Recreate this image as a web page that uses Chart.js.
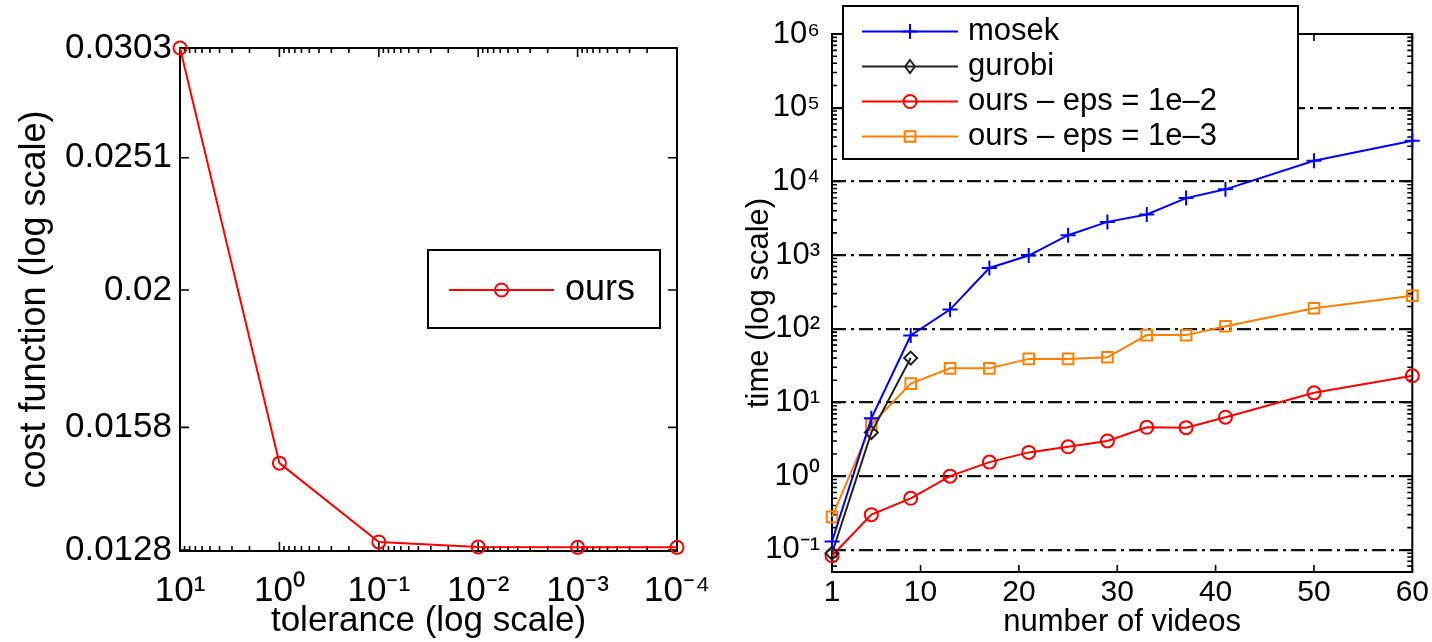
<!DOCTYPE html>
<html>
<head>
<meta charset="utf-8">
<script src="https://cdn.jsdelivr.net/npm/chart.js@4/dist/chart.umd.min.js"></script>
<style>
  html, body { margin: 0; padding: 0; background: #fff; width: 1432px; height: 642px; overflow: hidden; }
  canvas { position: absolute; top: 0; }
  #leftChart { left: 0; }
  #rightChart { left: 740px; }
</style>
</head>
<body>
<canvas id="leftChart" width="740" height="642"></canvas>
<canvas id="rightChart" width="692" height="642"></canvas>
<script>
// ---------------- data: left panel ----------------
const tolerance = [10, 1, 0.1, 0.01, 0.001, 0.0001];
const costOurs = [0.0303, 0.01486, 0.01298, 0.01287, 0.01286, 0.01286];
const leftYTicks = [0.0128, 0.0158, 0.02, 0.0251, 0.0303];
const leftYTickLabels = ['0.0128', '0.0158', '0.02', '0.0251', '0.0303'];
const leftXTicks = [10, 1, 0.1, 0.01, 0.001, 0.0001];

// ---------------- data: right panel ----------------
const videos = [1, 5, 9, 13, 17, 21, 25, 29, 33, 37, 41, 50, 60];
const mosekTime = [0.13, 6.1, 81, 182, 668, 985, 1860, 2820, 3550, 5930, 7800, 19000, 35700];
const gurobiVideos = [1, 5, 9];
const gurobiTime = [0.09, 3.9, 40];
const ours2Time = [0.083, 0.30, 0.50, 1.0, 1.55, 2.1, 2.5, 3.0, 4.6, 4.55, 6.3, 13.5, 23];
const ours3Time = [0.28, 5.0, 18, 29, 29, 39, 39, 41, 82, 82, 108, 190, 280];
const rightXTicks = [1, 10, 20, 30, 40, 50, 60];
const rightYTicks = [0.1, 1, 10, 100, 1000, 10000, 100000, 1000000];

// ---------------- helpers ----------------
const FONT = "'Liberation Sans', Arial, Helvetica, sans-serif";
const SUP = {'0':'\u2070','1':'\u00B9','2':'\u00B2','3':'\u00B3','4':'\u2074','5':'\u2075','6':'\u2076','7':'\u2077','8':'\u2078','9':'\u2079','-':'\u207B'};
function pow10Label(v) {
  const e = Math.round(Math.log10(v));
  return '10' + String(e).split('').map(c => SUP[c]).join('');
}
function logMarks(min, max) {
  const out = [];
  for (let d = Math.floor(Math.log10(min)); d <= Math.ceil(Math.log10(max)); d++) {
    for (let k = 1; k <= 9; k++) {
      const v = k * Math.pow(10, d);
      if (v >= min * 0.9999 && v <= max * 1.0001) out.push([v, k === 1 ? 9 : 5]);
    }
  }
  return out;
}
const pairs = (xs, ys) => xs.map((x, i) => ({x: x, y: ys[i]}));

function drawMarker(ctx, style, x, y, r) {
  ctx.beginPath();
  if (style === 'circle') {
    ctx.arc(x, y, r, 0, Math.PI * 2);
  } else if (style === 'cross') {
    ctx.moveTo(x - r, y); ctx.lineTo(x + r, y);
    ctx.moveTo(x, y - r); ctx.lineTo(x, y + r);
  } else if (style === 'rectRot') {
    ctx.moveTo(x, y - r); ctx.lineTo(x + r * 0.75, y); ctx.lineTo(x, y + r); ctx.lineTo(x - r * 0.75, y); ctx.closePath();
  } else if (style === 'rect') {
    const s = r * Math.SQRT1_2;
    ctx.rect(x - s, y - s, 2 * s, 2 * s);
  }
  ctx.stroke();
}

function frameTicksPlugin(spec) {
  return {
    id: 'frameTicks',
    beforeDatasetsDraw(chart) {
      const {ctx, chartArea: a} = chart;
      const xs = chart.scales.x, ys = chart.scales.y;
      ctx.save();
      ctx.strokeStyle = '#000';
      ctx.lineWidth = spec.tickWidth;
      ctx.beginPath();
      spec.xMarks.forEach(([v, len]) => {
        const px = xs.getPixelForValue(v);
        ctx.moveTo(px, a.bottom); ctx.lineTo(px, a.bottom - len);
        ctx.moveTo(px, a.top); ctx.lineTo(px, a.top + len);
      });
      spec.yMarks.forEach(([v, len]) => {
        const py = ys.getPixelForValue(v);
        ctx.moveTo(a.left, py); ctx.lineTo(a.left + len, py);
        ctx.moveTo(a.right, py); ctx.lineTo(a.right - len, py);
      });
      ctx.stroke();
      ctx.lineWidth = spec.frameWidth;
      ctx.strokeRect(a.left, a.top, a.right - a.left, a.bottom - a.top);
      ctx.restore();
    }
  };
}

function boxLegendPlugin(spec) {
  return {
    id: 'boxLegend',
    afterDraw(chart) {
      const ctx = chart.ctx;
      ctx.save();
      ctx.fillStyle = '#fff';
      ctx.fillRect(spec.x, spec.y, spec.w, spec.h);
      ctx.strokeStyle = '#000';
      ctx.lineWidth = 2;
      ctx.strokeRect(spec.x, spec.y, spec.w, spec.h);
      chart.data.datasets.forEach((ds, i) => {
        const y = spec.rows[i];
        ctx.strokeStyle = ds.borderColor;
        ctx.lineWidth = ds.borderWidth;
        ctx.beginPath(); ctx.moveTo(spec.x0, y); ctx.lineTo(spec.x1, y); ctx.stroke();
        ctx.lineWidth = ds.pointBorderWidth;
        drawMarker(ctx, ds.pointStyle, (spec.x0 + spec.x1) / 2, y, ds.pointRadius);
        ctx.fillStyle = '#000';
        ctx.font = spec.font;
        ctx.textBaseline = 'middle';
        ctx.textAlign = 'left';
        ctx.fillText(ds.label, spec.tx, y);
      });
      ctx.restore();
    }
  };
}

// ---------------- left chart ----------------
const leftYMin = 0.01278, leftYMax = 0.0303;
new Chart(document.getElementById('leftChart'), {
  type: 'line',
  data: {
    datasets: [{
      label: 'ours',
      data: pairs(tolerance, costOurs),
      borderColor: '#ff0000',
      backgroundColor: 'rgba(0,0,0,0)',
      borderWidth: 2,
      pointStyle: 'circle',
      pointRadius: 6.5,
      pointBorderWidth: 2,
      pointBackgroundColor: 'rgba(0,0,0,0)',
      pointBorderColor: '#ff0000',
      tension: 0,
      clip: false
    }]
  },
  options: {
    responsive: false,
    animation: false,
    events: [],
    layout: { padding: { top: 48, right: 63, left: 0, bottom: 0 } },
    plugins: { legend: { display: false }, tooltip: { enabled: false } },
    scales: {
      x: {
        type: 'logarithmic',
        min: 0.0001, max: 10, reverse: true,
        afterBuildTicks: s => { s.ticks = leftXTicks.map(v => ({value: v})); },
        afterFit: s => { s.height = 91; },
        grid: { display: false, drawTicks: false },
        border: { display: false },
        ticks: {
          autoSkip: false, maxRotation: 0, padding: 19, color: '#000',
          font: { family: FONT, size: 35 },
          callback: v => pow10Label(v)
        },
        title: { display: true, text: 'tolerance (log scale)', color: '#000',
                 font: { family: FONT, size: 35 }, padding: { top: 0, bottom: 0 } }
      },
      y: {
        type: 'logarithmic',
        min: leftYMin, max: leftYMax,
        afterBuildTicks: s => { s.ticks = leftYTicks.map(v => ({value: v})); },
        afterFit: s => { s.width = 180; },
        grid: { display: false, drawTicks: false },
        border: { display: false },
        ticks: {
          autoSkip: false, padding: 8, color: '#000',
          font: { family: FONT, size: 35 },
          callback: (v, i) => leftYTickLabels[i]
        },
        title: { display: true, text: 'cost function (log scale)', color: '#000',
                 font: { family: FONT, size: 36 }, padding: { top: 13, bottom: 0 } }
      }
    }
  },
  plugins: [
    frameTicksPlugin({
      tickWidth: 1.6, frameWidth: 2,
      xMarks: logMarks(0.0001, 10),
      yMarks: leftYTicks.map(v => [v, 9])
    }),
    boxLegendPlugin({
      x: 428, y: 250, w: 232, h: 78,
      rows: [290], x0: 449, x1: 554, tx: 565,
      font: '36px ' + FONT
    })
  ]
});

// ---------------- right chart ----------------
function lineDs(label, xs, ys, color, style, radius) {
  return {
    label: label,
    data: pairs(xs, ys),
    borderColor: color,
    backgroundColor: 'rgba(0,0,0,0)',
    borderWidth: 2,
    pointStyle: style,
    pointRadius: radius,
    pointBorderWidth: 2,
    pointBackgroundColor: 'rgba(0,0,0,0)',
    pointBorderColor: color,
    tension: 0,
    clip: false
  };
}
const rightYMin = 0.05, rightYMax = 1000000;
new Chart(document.getElementById('rightChart'), {
  type: 'line',
  data: {
    datasets: [
      lineDs('mosek', videos, mosekTime, '#0000ff', 'cross', 7.5),
      lineDs('gurobi', gurobiVideos, gurobiTime, '#222222', 'rectRot', 6.5),
      lineDs('ours \u2013 eps = 1e\u20132', videos, ours2Time, '#ff0000', 'circle', 6.5),
      lineDs('ours \u2013 eps = 1e\u20133', videos, ours3Time, '#ff8000', 'rect', 7.5)
    ]
  },
  options: {
    responsive: false,
    animation: false,
    events: [],
    layout: { padding: { top: 34, right: 18, left: 0, bottom: 0 } },
    plugins: { legend: { display: false }, tooltip: { enabled: false } },
    scales: {
      x: {
        type: 'linear',
        min: 1, max: 60,
        afterBuildTicks: s => { s.ticks = rightXTicks.map(v => ({value: v})); },
        afterFit: s => { s.height = 70; },
        grid: { display: false, drawTicks: false },
        border: { display: false },
        ticks: {
          autoSkip: false, maxRotation: 0, padding: 3, color: '#000',
          font: { family: FONT, size: 30 }
        },
        title: { display: true, text: 'number of videos', color: '#000',
                 font: { family: FONT, size: 31 }, padding: { top: 0, bottom: 1 } }
      },
      y: {
        type: 'logarithmic',
        min: rightYMin, max: rightYMax,
        afterBuildTicks: s => { s.ticks = rightYTicks.map(v => ({value: v})); },
        afterFit: s => { s.width = 92; },
        grid: { display: true, drawOnChartArea: true, drawTicks: false,
                color: c => (c.tick && c.tick.value >= rightYMax) ? 'rgba(0,0,0,0)' : '#111111',
                lineWidth: 2.2,
                borderDash: [14, 5, 3, 5] },
        border: { display: false, dash: [14, 5, 3, 5] },
        ticks: {
          autoSkip: false, padding: 12, color: '#000',
          font: { family: FONT, size: 31 },
          callback: v => pow10Label(v)
        },
        title: { display: true, text: 'time (log scale)', color: '#000',
                 font: { family: FONT, size: 31 }, padding: { top: 1, bottom: 0 } }
      }
    }
  },
  plugins: [
    frameTicksPlugin({
      tickWidth: 1.6, frameWidth: 2,
      xMarks: rightXTicks.map(v => [v, 7]),
      yMarks: logMarks(rightYMin, rightYMax)
    }),
    boxLegendPlugin({
      x: 103, y: 6, w: 455, h: 153,
      rows: [31.5, 66.5, 101.5, 136.5], x0: 122, x1: 218, tx: 228,
      font: '31px ' + FONT
    })
  ]
});
</script>
</body>
</html>
